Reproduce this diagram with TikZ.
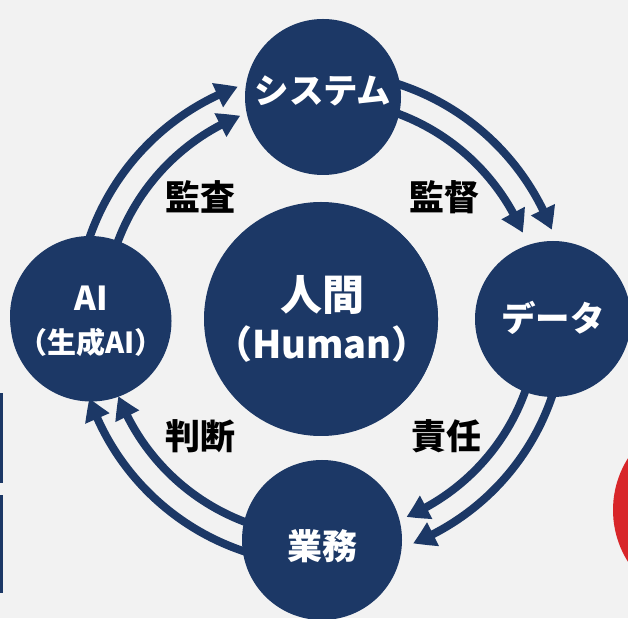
\documentclass[tikz,border=0pt]{standalone}
\usepackage{fontspec}
\setmainfont{Noto Sans CJK JP}
\usetikzlibrary{arrows.meta,bending}
\definecolor{navy}{HTML}{1C3866}
\definecolor{bgc}{HTML}{F2F2F2}
\definecolor{redc}{HTML}{D8262A}
\tikzset{
  hub/.style={circle,fill=navy,draw=none,text=white,font=\bfseries\fontsize{34.5}{40}\selectfont,inner sep=0pt,align=center},
  cyc/.style={draw=navy,line width=8pt,-{Triangle[width=25pt,length=22pt,bend]}},
  lbl/.style={text=black,font=\bfseries\fontsize{35}{40}\selectfont,inner sep=0pt}
}
\begin{document}
\begin{tikzpicture}[x=1pt,y=1pt]
\useasboundingbox (0,0) rectangle (628,618);
\fill[bgc] (0,0) rectangle (628,618);
% edge artifacts
\begin{scope}
\clip (0,0) rectangle (628,618);
\fill[redc] (710,108) circle[radius=97];
\end{scope}
\fill[navy] (0,135) rectangle (3,225);
\fill[navy] (0,25) rectangle (3,123);
% centre of the ring
\coordinate (C) at (322,300);
% arcs (drawn beneath the circles)
\draw[cyc] (C) ++(165:246) arc[start angle=165,end angle=110,radius=246];
\draw[cyc] (C) ++(165:218) arc[start angle=165,end angle=112,radius=218];
\draw[cyc] (C) ++(75:246) arc[start angle=75,end angle=21,radius=246];
\draw[cyc] (C) ++(75:218) arc[start angle=75,end angle=23,radius=218];
\draw[cyc] (C) ++(-15:243) arc[start angle=-15,end angle=-68,radius=243];
\draw[cyc] (C) ++(-15:216) arc[start angle=-15,end angle=-67,radius=216];
\draw[cyc] (C) ++(255:246) arc[start angle=255,end angle=199,radius=246];
\draw[cyc] (C) ++(255:218) arc[start angle=255,end angle=201,radius=218];
% circles
\node[hub,minimum size=156pt] (sys) at (323,521) {};
\node[hub,minimum size=156pt] (dat) at (553,299) {};
\node[hub,minimum size=160pt] (gyo) at (322,78) {};
\node[hub,minimum size=160pt] (ai) at (90,302) {};
\node[hub,minimum size=234pt] (hum) at (321,299) {};
% circle texts
\node[hub] (sysT) at (323,527) {システム};
\node[hub] (datT) at (553,300) {データ};
\node[hub,font=\bfseries\fontsize{35}{40}\selectfont] (gyoT) at (322,72) {業務};
\node[hub,font=\bfseries\fontsize{29}{43}\selectfont] (aiT) at (91,297) {{\fontsize{33}{43}\selectfont AI}\\（生成AI）};
\node[hub,font=\bfseries\fontsize{38}{48}\selectfont] (humT) at (322,299) {{\fontsize{42}{48}\selectfont 人間}\\（Human）};
% labels
\node[lbl] (l1) at (200,421) {監査};
\node[lbl] (l2) at (444,421) {監督};
\node[lbl] (l3) at (200,182) {判断};
\node[lbl] (l4) at (446,182) {責任};
\end{tikzpicture}
\end{document}
